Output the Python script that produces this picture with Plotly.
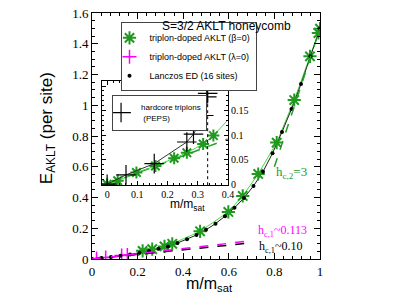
import plotly.graph_objects as go

# ---------------- data ----------------
# triplon-doped AKLT (beta=0): green stars
star_x = [0.0, 0.035, 0.097, 0.16, 0.222, 0.264, 0.318, 0.352, 0.474, 0.598, 0.661, 0.729, 0.81, 0.887, 0.956, 0.993, 1.0]
star_y = [0.0, 0.007, 0.024, 0.037, 0.053, 0.064, 0.082, 0.099, 0.18, 0.306, 0.41, 0.553, 0.757, 1.034, 1.318, 1.47, 1.498]

# triplon-doped AKLT (lambda=0): magenta crosses
mag_x = [0.02, 0.06, 0.13, 0.155]
mag_y = [0.003, 0.010, 0.022, 0.026]

# Lanczos ED (16 sites)
ed_x = [0.0, 0.0417, 0.0833, 0.125, 0.1667, 0.2083, 0.25, 0.2917, 0.3333, 0.375, 0.4167, 0.4583,
        0.5, 0.5417, 0.5833, 0.625, 0.6667, 0.7083, 0.75, 0.7917, 0.8333, 0.875, 0.9167, 0.9583, 1.0]
ed_y = [0.0, 0.006, 0.013, 0.021, 0.030, 0.040, 0.052, 0.066, 0.082, 0.104, 0.128, 0.156,
        0.190, 0.230, 0.278, 0.333, 0.397, 0.475, 0.568, 0.688, 0.826, 0.975, 1.138, 1.318, 1.500]

# linear asymptotes
hc1_x = [0.0, 0.7]
hc1_black_y = [0.0, 0.105]
hc1_mag_y = [0.0, 0.119]
hc2_x = [0.8, 1.0]
hc2_y = [0.6, 1.5]

# inset: hardcore triplons (PEPS)
peps_x = [0.0, 0.0625, 0.156, 0.264, 0.286, 0.32, 0.33, 0.333]
peps_y = [0.0, 0.019, 0.042, 0.086, 0.102, 0.14, 0.178, 0.185]
peps_sat_x = 0.333
inset_dash_x = [0.0, 0.4]
inset_dash_y = [0.0, 0.092]

main_x_ticks = [0, 0.2, 0.4, 0.6, 0.8, 1]
main_y_ticks = [0, 0.2, 0.4, 0.6, 0.8, 1, 1.2, 1.4, 1.6]

# ---------------- style ----------------
SERIF = "Liberation Serif"
SANS = "Liberation Sans"
GREEN_LINE = "#3ee03e"
GREEN_MK = "#1f9a1f"
GREEN_DASH = "#2a9a2a"
MAG = "#ff00ff"

fig = go.Figure()

sx_main = [x for x in star_x if x >= 0.2]
sy_main = [y for x, y in zip(star_x, star_y) if x >= 0.2]

star_marker = dict(symbol="asterisk-open", size=11, color=GREEN_MK, line=dict(color=GREEN_MK, width=2))
star_marker_small = dict(symbol="asterisk-open", size=10, color=GREEN_MK, line=dict(color=GREEN_MK, width=2))

# ---- main plot ----
fig.add_trace(go.Scatter(x=sx_main, y=sy_main, mode="lines", line=dict(color=GREEN_LINE, width=1),
                         showlegend=False, hoverinfo="skip"))
fig.add_trace(go.Scatter(x=ed_x, y=ed_y, mode="lines", line=dict(color="#222", width=1),
                         showlegend=False, hoverinfo="skip"))
fig.add_trace(go.Scatter(x=sx_main, y=sy_main, mode="markers", name="triplon-doped AKLT (β=0)",
                         marker=star_marker))
fig.add_trace(go.Scatter(x=mag_x, y=mag_y, mode="markers", name="triplon-doped AKLT (λ=0)",
                         marker=dict(symbol="cross-thin-open", size=10, color=MAG, line=dict(color=MAG, width=1.5))))
fig.add_trace(go.Scatter(x=ed_x, y=ed_y, mode="markers", name="Lanczos ED (16 sites)",
                         marker=dict(symbol="circle", size=4, color="black")))
fig.add_trace(go.Scatter(x=hc1_x, y=hc1_black_y, mode="lines", line=dict(color="black", width=1.5, dash="dash"),
                         showlegend=False, hoverinfo="skip"))
fig.add_trace(go.Scatter(x=hc1_x, y=hc1_mag_y, mode="lines", line=dict(color=MAG, width=1.5, dash="dash"),
                         showlegend=False, hoverinfo="skip"))
fig.add_trace(go.Scatter(x=hc2_x, y=hc2_y, mode="lines", line=dict(color=GREEN_DASH, width=1.5, dash="dash"),
                         showlegend=False, hoverinfo="skip"))

# ---- inset ----
fig.add_trace(go.Scatter(x=inset_dash_x, y=inset_dash_y, mode="lines", xaxis="x2", yaxis="y2",
                         line=dict(color=GREEN_DASH, width=1.5, dash="dash"), showlegend=False, hoverinfo="skip"))
fig.add_trace(go.Scatter(x=star_x, y=star_y, mode="lines", xaxis="x2", yaxis="y2",
                         line=dict(color=GREEN_LINE, width=1), showlegend=False, hoverinfo="skip"))
fig.add_trace(go.Scatter(x=star_x, y=star_y, mode="markers", xaxis="x2", yaxis="y2", showlegend=False,
                         marker=star_marker_small))
fig.add_trace(go.Scatter(x=peps_x, y=peps_y, mode="lines", xaxis="x2", yaxis="y2",
                         line=dict(color="#333", width=1), showlegend=False, hoverinfo="skip"))
fig.add_trace(go.Scatter(x=peps_x, y=peps_y, mode="markers", xaxis="x2", yaxis="y2",
                         name="hardcore triplons<br> (PEPS)", legend="legend2",
                         marker=dict(symbol="cross-thin-open", size=14, color="black",
                                     line=dict(color="black", width=1.2))))

fig.add_shape(type="line", xref="x2", yref="y2 domain", x0=peps_sat_x, x1=peps_sat_x, y0=0, y1=1,
              line=dict(color="black", width=1, dash="dot"))

axis_common = dict(showline=True, linecolor="black", linewidth=1, mirror="ticks", ticks="inside",
                   tickcolor="black", showgrid=False, zeroline=False, ticklabeloverflow="allow")

fig.update_layout(
    width=395, height=305,
    margin=dict(l=92, r=75, t=6, b=46),
    paper_bgcolor="white", plot_bgcolor="white",
    xaxis=dict(**axis_common, domain=[0, 1], range=[0, 1], tickvals=main_x_ticks, ticklen=6,
               minor=dict(dtick=0.04, ticklen=3, ticks="inside", tickcolor="black"),
               tickfont=dict(family=SERIF, size=13, color="black")),
    yaxis=dict(**axis_common, domain=[0, 1], range=[0, 1.6], tickvals=main_y_ticks, ticklen=6,
               minor=dict(dtick=0.05, ticklen=3, ticks="inside", tickcolor="black"),
               tickfont=dict(family=SERIF, size=13, color="black")),
    xaxis2=dict(**axis_common, domain=[0.0439, 0.596], anchor="y2", range=[-0.017, 0.4], dtick=0.1, tick0=0,
                ticklen=4, minor=dict(dtick=0.02, ticklen=2, ticks="inside", tickcolor="black"),
                tickfont=dict(family=SERIF, size=10, color="black")),
    yaxis2=dict(**axis_common, domain=[0.300, 0.723], anchor="x2", side="right", range=[-0.002, 0.21],
                dtick=0.05, tick0=0, ticklen=4,
                minor=dict(dtick=0.01, ticklen=2, ticks="inside", tickcolor="black"),
                tickfont=dict(family=SERIF, size=10, color="black")),
    legend=dict(x=0.125, y=0.962, xanchor="left", yanchor="top", bgcolor="white",
                bordercolor="#444", borderwidth=1, font=dict(family=SANS, size=9, color="black"),
                tracegroupgap=0, itemwidth=30, indentation=-12),
    legend2=dict(x=0.088, y=0.668, xanchor="left", yanchor="top", bgcolor="white",
                 bordercolor="#444", borderwidth=1, font=dict(family=SANS, size=8, color="black"),
                 indentation=-12, itemwidth=30),
    annotations=[
        dict(text="S=3/2 AKLT honeycomb", x=0.588, y=0.982, xref="paper", yref="paper", showarrow=False,
             font=dict(family=SANS, size=12, color="black")),
        dict(text="m/m<sub>sat</sub>", x=0.515, y=-0.104, xref="paper", yref="paper", showarrow=False,
             yanchor="middle", font=dict(family=SANS, size=16, color="black")),
        dict(text="E<sub>AKLT</sub> (per site)", x=-0.195, y=0.53, xref="paper", yref="paper", showarrow=False,
             textangle=-90, xanchor="center", yanchor="middle", font=dict(family=SANS, size=17, color="black")),
        dict(text="m/m<sub>sat</sub>", x=0.333, y=0.219, xref="paper", yref="paper", showarrow=False,
             yanchor="middle", font=dict(family=SANS, size=12, color="black")),
        dict(text="h<sub>c,2</sub>=3", x=0.8, y=0.56, xref="x", yref="y", xanchor="left", showarrow=False,
             font=dict(family=SERIF, size=13, color=GREEN_DASH)),
        dict(text="h<sub>c,1</sub>~0.113", x=0.72, y=0.185, xref="x", yref="y", xanchor="left", showarrow=False,
             font=dict(family=SERIF, size=12, color=MAG)),
        dict(text="h<sub>c,1</sub>~0.10", x=0.725, y=0.08, xref="x", yref="y", xanchor="left", showarrow=False,
             font=dict(family=SERIF, size=12, color="black")),
    ],
)

fig.write_html("out.html", config={"displayModeBar": False},
               post_script="document.body.style.margin='0';document.body.style.overflow='hidden';")
